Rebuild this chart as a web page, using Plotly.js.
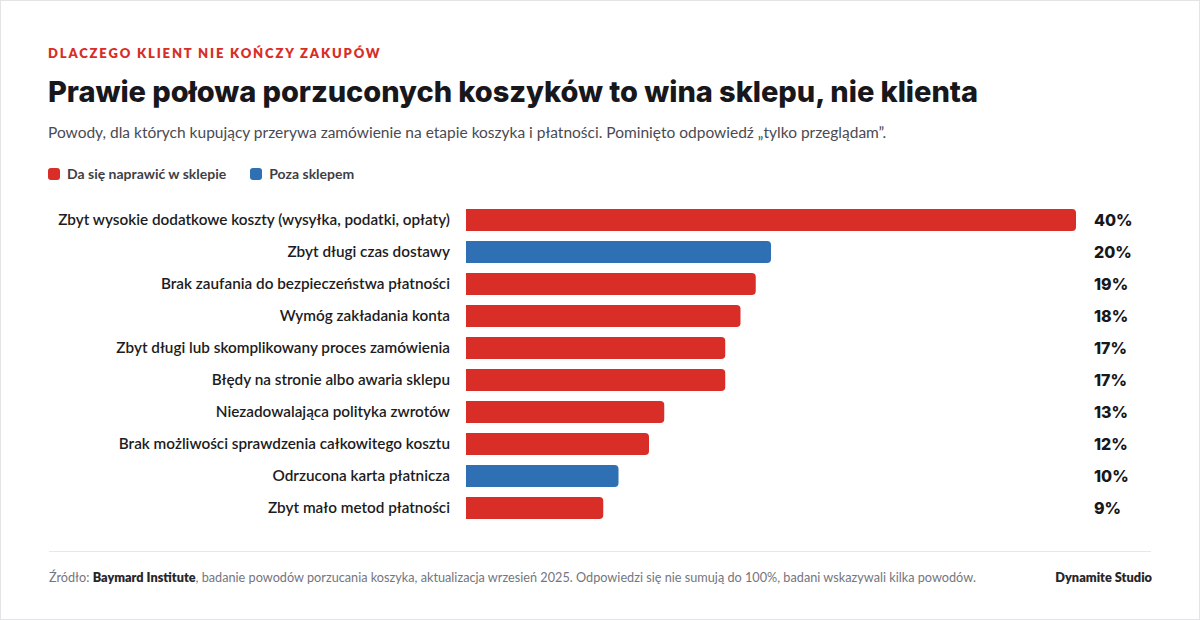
<!DOCTYPE html>
<html lang="pl">
<head>
<meta charset="utf-8">
<script src="https://cdn.plot.ly/plotly-3.0.1.min.js"></script>
<style>
  html, body { margin: 0; padding: 0; background: #fff; }
  body { width: 1200px; height: 620px; overflow: hidden; font-family: Lato, "Noto Sans", sans-serif; }
  .card { position: relative; width: 1198px; height: 618px; border: 1px solid #e4e4e7; background: #fff; }
  #chart { position: absolute; left: 0; top: 0; width: 1198px; height: 618px; }
  .kicker { position: absolute; left: 47px; top: 44px; font-size: 13px; font-weight: 800; letter-spacing: 1.85px; color: #d92d27; }
  .title { position: absolute; left: 47px; top: 73px; font-family: Inter, Lato, sans-serif; font-size: 29px; font-weight: 800; color: #17171c; letter-spacing: -0.05px; }
  .subtitle { position: absolute; left: 47px; top: 122px; font-size: 15.5px; color: #4a4a52; }
  .legend { position: absolute; left: 47px; top: 164px; font-size: 14px; font-weight: 700; color: #3f3f46; display: flex; gap: 24px; }
  .legend span.sw { display: inline-block; width: 12px; height: 12px; border-radius: 3px; margin-right: 7px; vertical-align: -1px; }
  .rule { position: absolute; left: 48px; right: 48px; top: 550px; border-top: 1px solid #e8e8ea; }
  .foot { position: absolute; left: 48px; top: 568px; font-size: 12.7px; color: #75757d; }
  .foot b, .brand { color: #27272a; font-weight: 800; }
  .brand { position: absolute; right: 47px; top: 568px; font-size: 12.8px; }
</style>
</head>
<body>
<div class="card">
  <div id="chart"></div>
  <div class="kicker">DLACZEGO KLIENT NIE KOŃCZY ZAKUPÓW</div>
  <div class="title">Prawie połowa porzuconych koszyków to wina sklepu, nie klienta</div>
  <div class="subtitle">Powody, dla których kupujący przerywa zamówienie na etapie koszyka i płatności. Pominięto odpowiedź „tylko przeglądam”.</div>
  <div class="legend" id="legend"></div>
  <div class="rule"></div>
  <div class="foot">Źródło: <b>Baymard Institute</b>, badanie powodów porzucania koszyka, aktualizacja wrzesień 2025. Odpowiedzi się nie sumują do 100%, badani wskazywali kilka powodów.</div>
  <div class="brand">Dynamite Studio</div>
</div>
<script>
// dane
const reasons = [
  'Zbyt wysokie dodatkowe koszty (wysyłka, podatki, opłaty)',
  'Zbyt długi czas dostawy',
  'Brak zaufania do bezpieczeństwa płatności',
  'Wymóg zakładania konta',
  'Zbyt długi lub skomplikowany proces zamówienia',
  'Błędy na stronie albo awaria sklepu',
  'Niezadowalająca polityka zwrotów',
  'Brak możliwości sprawdzenia całkowitego kosztu',
  'Odrzucona karta płatnicza',
  'Zbyt mało metod płatności'
];
const shares = [40, 20, 19, 18, 17, 17, 13, 12, 10, 9];
const fixable = [true, false, true, true, true, true, true, true, false, true];
const groupNames = ['Da się naprawić w sklepie', 'Poza sklepem'];
const groupColors = ['#d92d27', '#2f6fb3'];

const FONT = 'Lato, "Noto Sans", sans-serif';

// legenda
document.getElementById('legend').innerHTML = groupNames.map((n, i) =>
  '<div><span class="sw" style="background:' + groupColors[i] + '"></span>' + n + '</div>').join('');

function makeTrace(g){
  const idx = reasons.map((r, i) => i).filter(i => fixable[i] === (g === 0));
  return {
    type: 'bar',
    orientation: 'h',
    name: groupNames[g],
    y: idx.map(i => reasons[i]),
    x: idx.map(i => shares[i]),
    width: 0.69,
    marker: {color: groupColors[g], cornerradius: 4},
    hoverinfo: 'skip'
  };
}

const data = [makeTrace(0), makeTrace(1)];

const annotations = reasons.map((r, i) => ({
  xref: 'paper', x: 1, xshift: 16, xanchor: 'left',
  yref: 'y', y: r,
  text: shares[i] + '%',
  showarrow: false,
  font: {family: 'Inter, Lato, sans-serif', size: 16, weight: 800, color: '#17171c'}
}));

const layout = {
  width: 1198, height: 618,
  margin: {l: 465, r: 123, t: 203, b: 95},
  paper_bgcolor: 'rgba(0,0,0,0)',
  plot_bgcolor: 'rgba(0,0,0,0)',
  barmode: 'overlay',
  showlegend: false,
  font: {family: FONT},
  xaxis: {range: [0, 40], visible: false, fixedrange: true},
  yaxis: {
    type: 'category',
    categoryorder: 'array',
    categoryarray: reasons,
    autorange: 'reversed',
    showgrid: false, zeroline: false, showline: false,
    ticks: '',
    ticklabelstandoff: 15,
    tickfont: {family: FONT, size: 15.3, weight: 600, color: '#1c1c22'},
    fixedrange: true
  },
  annotations: annotations
};

Plotly.newPlot('chart', data, layout, {displayModeBar: false, staticPlot: true});
</script>
</body>
</html>
